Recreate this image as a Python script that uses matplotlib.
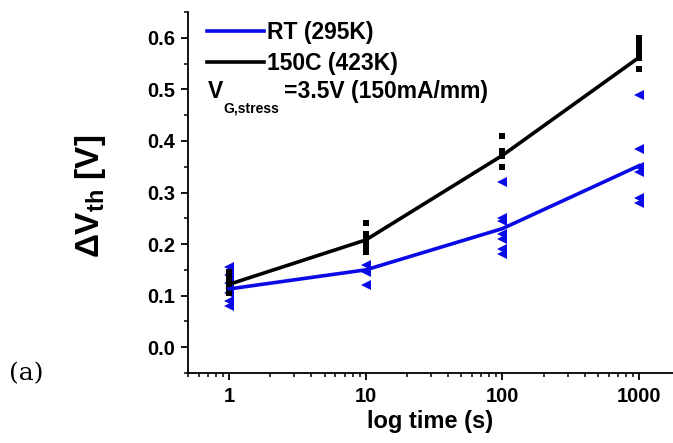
import matplotlib
matplotlib.use("Agg")
import matplotlib.pyplot as plt

# ---------------------------------------------------------
# Data
# ---------------------------------------------------------
times = [1, 10, 100, 1000]
fit_rt = [0.113, 0.150, 0.230, 0.352]
fit_150c = [0.122, 0.208, 0.372, 0.562]

# raw measurements, one list per stress time
raw_150c = [
    [0.105, 0.112, 0.118, 0.124, 0.130, 0.138, 0.145],
    [0.185, 0.195, 0.200, 0.210, 0.220, 0.240],
    [0.350, 0.370, 0.380, 0.410],
    [0.540, 0.560, 0.570, 0.580, 0.590, 0.600],
]
raw_rt = [
    [0.080, 0.090, 0.105, 0.125, 0.140, 0.155],
    [0.120, 0.145, 0.160],
    [0.180, 0.190, 0.210, 0.220, 0.245, 0.250, 0.320],
    [0.280, 0.290, 0.340, 0.350, 0.385, 0.490],
]

BLUE = "#0a0ae6"
BLACK = "#000000"

plt.rcParams["font.family"] = "Liberation Sans"
plt.rcParams["font.weight"] = "bold"
plt.rcParams["mathtext.fontset"] = "custom"
plt.rcParams["mathtext.rm"] = "Liberation Sans:bold"
plt.rcParams["mathtext.bf"] = "Liberation Sans:bold"
plt.rcParams["mathtext.default"] = "bf"

fig = plt.figure(figsize=(6.73, 4.43), dpi=100, facecolor="white")
ax = fig.add_axes([188 / 673, 70 / 443, 485 / 673, 361 / 443])

# raw points
for t, vals in zip(times, raw_rt):
    ax.plot([t] * len(vals), vals, linestyle="none", marker="<",
            markersize=6.5, color=BLUE, markeredgewidth=0)
for t, vals in zip(times, raw_150c):
    ax.plot([t] * len(vals), vals, linestyle="none", marker="s",
            markersize=4.2, color=BLACK, markeredgewidth=0)

# trend lines
l_rt, = ax.plot(times, fit_rt, color=BLUE, linewidth=2.6, label="RT (295K)")
l_hot, = ax.plot(times, fit_150c, color=BLACK, linewidth=2.6, label="150C (423K)")

ax.set_xscale("log")
ax.set_xlim(0.5, 1770)
ax.set_ylim(-0.05, 0.65)
ax.set_xticks(times)
ax.set_xticklabels(["1", "10", "100", "1000"])
ax.set_yticks([0.0, 0.1, 0.2, 0.3, 0.4, 0.5, 0.6])
ax.set_yticks([-0.05, 0.05, 0.15, 0.25, 0.35, 0.45, 0.55, 0.65], minor=True)

ax.spines[["top", "right"]].set_visible(False)
for s in ("left", "bottom"):
    ax.spines[s].set_linewidth(1.3)
ax.tick_params(which="major", direction="out", length=5, width=1.3,
               labelsize=14.5, pad=4)
ax.tick_params(which="minor", direction="out", length=3, width=1.1)
ax.tick_params(axis="x", which="major", pad=5)

ax.set_xlabel("log time (s)", fontsize=17, fontweight="bold", labelpad=3)
ax.set_ylabel(r"ΔV$_{th}$ [V]", fontsize=24, fontweight="bold")
ax.yaxis.set_label_coords(-0.165, 0.49)

leg = ax.legend(handles=[l_rt, l_hot], loc="upper left",
                bbox_to_anchor=(0.025, 0.995), frameon=False,
                prop={"family": "Liberation Sans", "weight": "bold", "size": 16.5},
                handlelength=2.5, handletextpad=0.1, labelspacing=0.38,
                borderaxespad=0.0, borderpad=0.3)

# V_G,stress annotation: main letter, small subscript, then the rest
v_txt = ax.text(0.04, 0.762, "V", transform=ax.transAxes,
                fontsize=16.5, fontweight="bold", ha="left", va="baseline")
sub_txt = ax.annotate("G,stress", xy=(1, 0), xycoords=v_txt,
                      xytext=(0.5, -7), textcoords="offset points",
                      fontsize=10, fontweight="bold", ha="left", va="baseline")
ax.annotate("=3.5V (150mA/mm)", xy=(1, 0), xycoords=v_txt,
            xytext=(44, 0), textcoords="offset points",
            fontsize=16.5, fontweight="bold", ha="left", va="bottom")

fig.text(0.039, 0.156, "(a)", fontsize=18, family="DejaVu Serif",
         fontweight="normal", ha="center", va="center")

plt.savefig("out.png", dpi=100, facecolor="white")
